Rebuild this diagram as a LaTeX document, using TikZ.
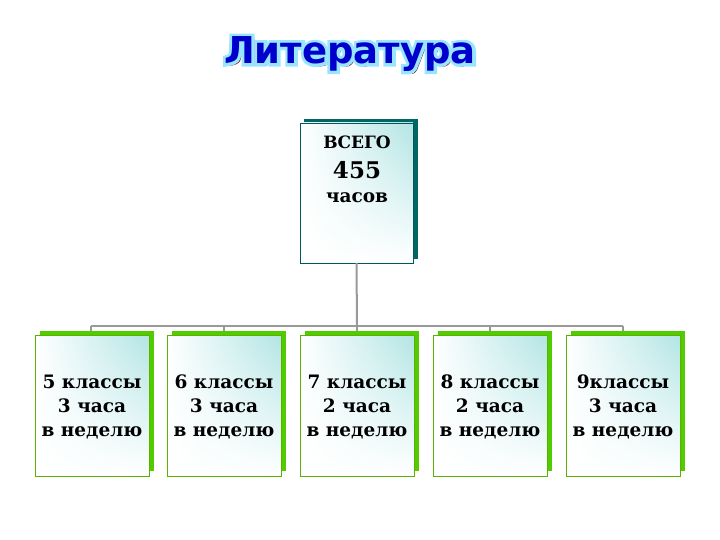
\documentclass[tikz,border=0pt]{standalone}
\usepackage{fontspec}
\usetikzlibrary{shadings}
\setmainfont{DejaVu Serif}
\newfontfamily\titlefont{DejaVu Sans}
\begin{document}
\begin{tikzpicture}[x=1pt,y=-1pt,
  cardtxt/.style={font=\bfseries\fontsize{18.5}{24}\selectfont, align=center, text=black},
  conn/.style={draw=gray!80, line width=2pt},
  cardshade/.style={upper right=cyan!30!teal!30!white, upper left=white, lower left=white, lower right=white}]
\useasboundingbox (0,0) rectangle (720,540);
% title
\node[font=\titlefont\bfseries\fontsize{37}{40}\selectfont, text=red!50!black] at (353,57) {Литература};
\node (title) [font=\titlefont\bfseries\fontsize{37}{40}\selectfont, text=blue!25!cyan!40!white] at (350,54) {\special{pdf:literal direct 2 Tr 6 w}Литература\special{pdf:literal direct 0 Tr}};
\node[font=\titlefont\bfseries\fontsize{37}{40}\selectfont, text=blue!80!black] at (350,54) {Литература};
% top card
\fill[teal!80!black] (304,119) rectangle (418,259);
\shade[cardshade] (300,123) rectangle (413,263);
\draw[teal!70!black, line width=0.7pt] (300,123) rectangle (413,263);
\node (top) at (356.5,193) [minimum width=113pt, minimum height=140pt] {};
\node[cardtxt, font=\bfseries\fontsize{17}{20}\selectfont] at (357,142) {ВСЕГО};
\node[cardtxt, font=\bfseries\fontsize{23}{26}\selectfont] at (357,170) {455};
\node[cardtxt] at (357,198) {часов};
% connectors
\coordinate (bus) at (357,326);
\foreach \i/\x in {1/91,2/224,3/357,4/490,5/623}{
  \coordinate (c\i) at (\x,326);
}
\draw[conn] (top.south) -- (bus);
\draw[conn] (c1) -- (c5);
% bottom cards
\foreach \i/\x/\t in {1/35/{5 классы\\3 часа\\в неделю},2/167/{6 классы\\3 часа\\в неделю},3/300/{7 классы\\2 часа\\в неделю},4/433/{8 классы\\2 часа\\в неделю},5/566/{9классы\\3 часа\\в неделю}}{
  \draw[conn] (c\i) -- ++(0,7);
  \fill[green!60!yellow!80!black] (\x+5,331) rectangle (\x+119,471);
  \shade[cardshade] (\x,335) rectangle (\x+114,476);
  \draw[green!50!yellow!70!black, line width=0.7pt] (\x,335) rectangle (\x+114,476);
  \node (b\i) [cardtxt] at (\x+57,407) {\t};
}
\end{tikzpicture}
\end{document}
